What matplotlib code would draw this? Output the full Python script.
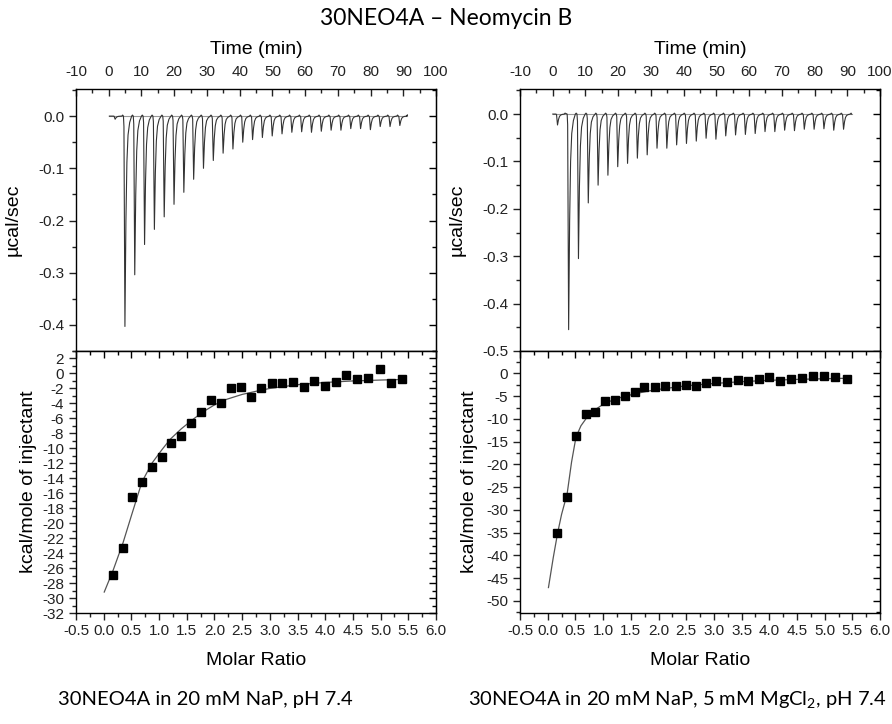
import numpy as np
import matplotlib
matplotlib.use("Agg")
import matplotlib.pyplot as plt
from matplotlib.ticker import MultipleLocator, FormatStrFormatter

plt.rcParams['font.family'] = ['Liberation Sans', 'DejaVu Sans']
plt.rcParams['axes.unicode_minus'] = False

# raw heat traces: injection times (min) and peak heights (ucal/sec)
inj_t_a = [1.5, 4.5, 7.5, 10.5, 13.5, 16.5, 19.5, 22.5, 25.5, 28.5, 31.5, 34.5, 37.5,
           40.5, 43.5, 46.5, 49.5, 52.5, 55.5, 58.5, 61.5, 64.5, 67.5, 70.5, 73.5,
           76.5, 79.5, 82.5, 85.5, 88.5]
peak_a = [-0.006, -0.403, -0.304, -0.246, -0.217, -0.193, -0.169, -0.146, -0.121, -0.100,
          -0.085, -0.071, -0.063, -0.050, -0.045, -0.041, -0.038, -0.034, -0.031,
          -0.030, -0.031, -0.029, -0.027, -0.027, -0.024, -0.024, -0.026, -0.020,
          -0.020, -0.018]
inj_t_b = [1.0, 4.4, 7.4, 10.4, 13.4, 16.4, 19.4, 22.4, 25.4, 28.4, 31.4, 34.4, 37.4,
           40.4, 43.4, 46.4, 49.4, 52.4, 55.4, 58.4, 61.4, 64.4, 67.4, 70.4, 73.4,
           76.4, 79.4, 82.4, 85.4, 88.4]
peak_b = [-0.023, -0.455, -0.305, -0.1875, -0.150, -0.129, -0.111, -0.104, -0.093, -0.086,
          -0.072, -0.072, -0.065, -0.062, -0.057, -0.051, -0.053, -0.046, -0.044,
          -0.043, -0.041, -0.037, -0.037, -0.034, -0.035, -0.032, -0.032, -0.031,
          -0.034, -0.032]
trace_span_a = (0.2, 91.0)
trace_span_b = (0.0, 91.3)

# integrated heats (kcal/mole of injectant)
ratio_a = [0.17, 0.35, 0.51, 0.69, 0.87, 1.05, 1.21, 1.40, 1.58, 1.75, 1.93, 2.11, 2.30,
           2.48, 2.66, 2.84, 3.04, 3.22, 3.42, 3.61, 3.80, 3.99, 4.19, 4.38, 4.58,
           4.78, 4.99, 5.18, 5.38]
heat_a = [-26.9, -23.3, -16.5, -14.5, -12.45, -11.1, -9.3, -8.3, -6.66, -5.15, -3.6,
          -3.9, -1.9, -1.77, -3.15, -1.9, -1.23, -1.27, -1.19, -1.86, -1.05, -1.72,
          -1.19, -0.26, -0.74, -0.65, 0.6, -1.23, -0.7]
ratio_b = [0.176, 0.351, 0.51, 0.69, 0.86, 1.04, 1.22, 1.39, 1.57, 1.74, 1.93, 2.12,
           2.31, 2.49, 2.67, 2.86, 3.04, 3.23, 3.43, 3.61, 3.81, 4.00, 4.20, 4.39,
           4.59, 4.79, 4.99, 5.19, 5.40]
heat_b = [-35.2, -27.2, -13.8, -8.97, -8.4, -6.1, -5.8, -5.0, -4.05, -2.95, -3.0,
          -2.86, -2.7, -2.58, -2.7, -2.2, -1.76, -1.98, -1.47, -1.62, -1.18, -0.87,
          -1.62, -1.25, -0.96, -0.65, -0.65, -0.87, -1.3]

# fitted curves
fit_x_a = [0.01, 0.17, 0.35, 0.5, 0.69, 0.87, 1.05, 1.2, 1.4, 1.6, 1.8, 2.0, 2.2, 2.5,
           2.8, 3.0, 3.5, 4.0, 4.5, 5.0, 5.4]
fit_y_a = [-29.2, -26.3, -22.6, -19.0, -14.5, -12.0, -10.2, -8.8, -7.4, -6.2, -5.1,
           -4.2, -3.5, -2.8, -2.3, -2.0, -1.5, -1.2, -1.0, -0.88, -0.8]
fit_x_b = [0.013, 0.1, 0.18, 0.25, 0.35, 0.43, 0.51, 0.6, 0.7, 0.85, 1.0, 1.2, 1.4, 1.6,
           1.8, 2.0, 2.5, 3.0, 3.5, 4.0, 4.5, 5.0, 5.4]
fit_y_b = [-47.1, -40.5, -35.0, -31.0, -26.5, -19.5, -14.0, -11.5, -9.8, -8.0, -6.8,
           -5.7, -5.0, -4.4, -3.9, -3.5, -2.7, -2.2, -1.8, -1.5, -1.3, -1.15, -1.05]

captions = ["30NEO4A in 20 mM NaP, pH 7.4",
            "30NEO4A in 20 mM NaP, 5 mM MgCl$\\mathregular{_2}$, pH 7.4"]
title = "30NEO4A \u2013 Neomycin B"

# shape of one injection peak: (minutes after injection, fraction of peak height)
spike_dt = [0.0, 0.15, 0.45, 0.75, 1.05, 1.4, 1.9, 2.5]
spike_fr = [0.0, 0.05, 1.0, 0.5, 0.22, 0.09, 0.03, 0.0]


def build_trace(times, peaks, span):
    tx, ty = [span[0]], [0.0]
    for t0, h in zip(times, peaks):
        for dt, fr in zip(spike_dt, spike_fr):
            tx.append(t0 + dt)
            ty.append(h * fr)
        tx.append(t0 + 2.75)
        ty.append(0.002)
    tx.append(span[1])
    ty.append(0.0)
    return tx, ty


def style_ticks(ax, xmaj, xmin, ymaj, ymin, top_panel):
    ax.xaxis.set_major_locator(MultipleLocator(xmaj))
    ax.xaxis.set_minor_locator(MultipleLocator(xmin))
    ax.yaxis.set_major_locator(MultipleLocator(ymaj))
    ax.yaxis.set_minor_locator(MultipleLocator(ymin))
    ax.tick_params(axis='y', which='both', direction='out', left=True, right=False,
                   labelsize=11, colors='#222222', width=1.0)
    ax.tick_params(axis='y', which='major', length=5)
    ax.tick_params(axis='y', which='minor', length=3)
    sec = ax.secondary_yaxis('right')
    sec.yaxis.set_major_locator(MultipleLocator(ymaj))
    sec.yaxis.set_minor_locator(MultipleLocator(ymin))
    sec.tick_params(which='both', direction='in', labelright=False, width=1.0)
    sec.tick_params(which='major', length=5)
    sec.tick_params(which='minor', length=3)
    if top_panel:
        ax.tick_params(axis='x', which='both', direction='in', top=True, bottom=False,
                       labeltop=True, labelbottom=False, labelsize=11,
                       colors='#222222', width=1.0, pad=7)
        ax.tick_params(axis='x', which='major', length=5)
        ax.tick_params(axis='x', which='minor', length=3)
    else:
        ax.tick_params(axis='x', which='both', direction='out', top=False, bottom=True,
                       labelsize=11, colors='#222222', width=1.0, pad=3)
        ax.tick_params(axis='x', which='major', length=5)
        ax.tick_params(axis='x', which='minor', length=3)
        sec = ax.secondary_xaxis('top')
        sec.xaxis.set_major_locator(MultipleLocator(xmaj))
        sec.xaxis.set_minor_locator(MultipleLocator(xmin))
        sec.tick_params(which='both', direction='in', labeltop=False, width=1.0)
        sec.tick_params(which='major', length=5)
        sec.tick_params(which='minor', length=3)
    for s in ax.spines.values():
        s.set_linewidth(1.0)


fig = plt.figure(figsize=(8.92, 7.24), dpi=100)

panels = [
    (0.0852, inj_t_a, peak_a, trace_span_a, (-0.45, 0.052), ratio_a, heat_a,
     fit_x_a, fit_y_a, (-32, 3), 2, 1, 14, 4),
    (0.583, inj_t_b, peak_b, trace_span_b, (-0.5, 0.053), ratio_b, heat_b,
     fit_x_b, fit_y_b, (-52.7, 4.95), 5, 2.5, 14, 6),
]

for (left, it, pk, span, ylim_top, rx, hy, fx, fy, ylim_bot, ymaj, ymin,
     lp_top, lp_bot) in panels:
    w = 0.4036
    ax_t = fig.add_axes([left, 0.5152, w, 0.3619])
    ax_b = fig.add_axes([left, 0.1533, w, 0.3619])

    tx, ty = build_trace(it, pk, span)
    ax_t.plot([span[0], span[1]], [0, 0], color='#9a9a9a', lw=0.8)
    ax_t.plot(tx, ty, color='#333333', lw=0.8)
    ax_t.set_xlim(-10, 100)
    ax_t.set_ylim(*ylim_top)
    style_ticks(ax_t, 10, 5, 0.1, 0.05, True)
    ax_t.xaxis.set_major_formatter(FormatStrFormatter('%d'))
    ax_t.yaxis.set_major_formatter(FormatStrFormatter('%.1f'))
    ax_t.xaxis.set_label_position('top')
    ax_t.set_xlabel('Time (min)', fontsize=14, labelpad=8)
    ax_t.set_ylabel('\u00b5cal/sec', fontsize=14, labelpad=lp_top - 2)

    ax_b.plot(fx, fy, color='#555555', lw=0.9)
    ax_b.plot(rx, hy, 's', color='black', markersize=5.3)
    ax_b.set_xlim(-0.5, 6.0)
    ax_b.set_ylim(*ylim_bot)
    style_ticks(ax_b, 0.5, 0.25, ymaj, ymin, False)
    ax_b.xaxis.set_major_formatter(FormatStrFormatter('%.1f'))
    ax_b.yaxis.set_major_formatter(FormatStrFormatter('%d'))
    ax_b.set_xlabel('Molar Ratio', fontsize=14, labelpad=10)
    ax_b.set_ylabel('kcal/mole of injectant', fontsize=14, labelpad=lp_bot)

fig.text(0.5, 0.975, title, ha='center', va='center', fontsize=16.5,
         family=['Lato', 'DejaVu Sans'])
fig.text(0.065, 0.034, captions[0], ha='left', va='center', fontsize=14.5,
         family=['Lato', 'DejaVu Sans'])
fig.text(0.994, 0.034, captions[1], ha='right', va='center', fontsize=14.5,
         family=['Lato', 'DejaVu Sans'])

fig.savefig('out.png', dpi=100)
